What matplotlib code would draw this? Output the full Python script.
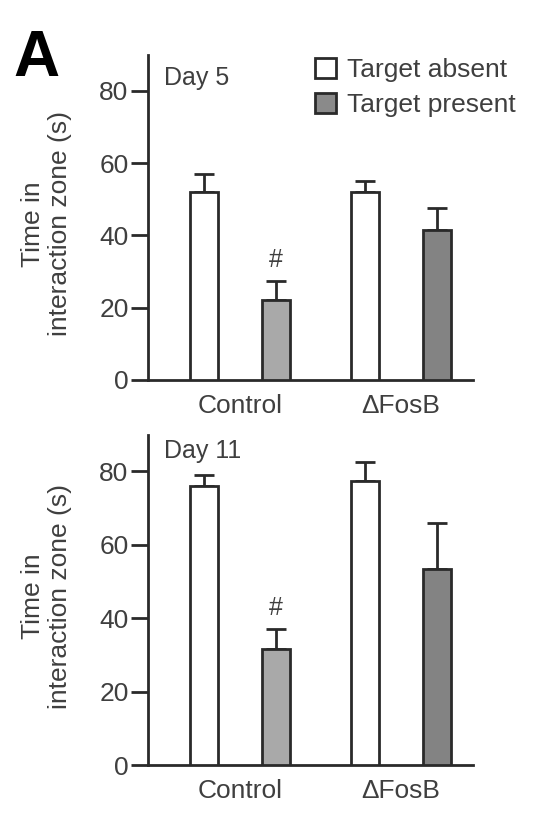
import matplotlib
matplotlib.use("Agg")
import matplotlib.pyplot as plt
from matplotlib.patches import Patch
import numpy as np

plt.rcParams['font.family'] = ['Liberation Sans', 'DejaVu Sans']

groups = ["Control", "\u0394FosB"]
series = ["Target absent", "Target present"]
days = ["Day 5", "Day 11"]
day5_absent = [52, 52]
day5_present = [22, 41.5]
day5_absent_err = [5, 3]
day5_present_err = [5.5, 6]
day11_absent = [76, 77.5]
day11_present = [31.5, 53.5]
day11_absent_err = [3, 5]
day11_present_err = [5.5, 12.5]
yticks = [0, 20, 40, 60, 80]

fig = plt.figure(figsize=(5.35, 8.36), dpi=100)
txt = '#3f3f3f'
edge = '#2a2a2a'
present_colors = ['#a9a9a9', '#838383']
FS = 19

axes_rects = [[0.2766, 0.5455, 0.607, 0.389], [0.2766, 0.0849, 0.607, 0.395]]
label_y = [0.48, 0.51]
day_y = [0.93, 0.95]
data = [(day5_absent, day5_present, day5_absent_err, day5_present_err),
        (day11_absent, day11_present, day11_absent_err, day11_present_err)]

x = np.arange(len(groups))
off = 0.224
w = 0.172
for k, rect in enumerate(axes_rects):
    ax = fig.add_axes(rect)
    ab, pr, abe, pre = data[k]
    ax.bar(x - off, ab, w, color='white', edgecolor=edge, linewidth=2, zorder=3)
    ax.bar(x + off, pr, w, color=present_colors, edgecolor=edge, linewidth=2, zorder=3)
    ax.errorbar(x - off, ab, yerr=[np.zeros(2), abe], fmt='none', ecolor=edge,
                elinewidth=2, capsize=7, capthick=2, zorder=2)
    ax.errorbar(x + off, pr, yerr=[np.zeros(2), pre], fmt='none', ecolor=edge,
                elinewidth=2, capsize=7, capthick=2, zorder=2)
    ax.text(x[0] + off, pr[0] + pre[0] + 2.5, '#', ha='center', va='bottom',
            fontsize=18, color=txt)
    ax.set_xlim(-0.571, 1.447)
    ax.set_ylim(0, 90)
    ax.set_yticks(yticks)
    ax.set_xticks(x)
    ax.set_xticklabels(groups)
    for s in ['top', 'right']:
        ax.spines[s].set_visible(False)
    for s in ['left', 'bottom']:
        ax.spines[s].set_linewidth(2)
        ax.spines[s].set_color(edge)
    ax.tick_params(axis='y', length=12, width=2, color=edge, labelsize=FS,
                   labelcolor=txt, pad=2)
    ax.tick_params(axis='x', length=0, labelsize=FS, labelcolor=txt, pad=10)
    ax.set_ylabel("Time in\ninteraction zone (s)", fontsize=FS, color=txt,
                  linespacing=1.15)
    ax.yaxis.set_label_coords(-0.235, label_y[k])
    ax.text(0.05, day_y[k], days[k], transform=ax.transAxes, ha='left', va='center',
            fontsize=18, color=txt)
    if k == 0:
        handles = [Patch(facecolor='white', edgecolor=edge, linewidth=2),
                   Patch(facecolor='#8a8a8a', edgecolor=edge, linewidth=2)]
        ax.legend(handles, series, loc='upper left', bbox_to_anchor=(0.515, 0.99),
                  frameon=False, fontsize=FS, handlelength=0.8, handleheight=0.8,
                  handletextpad=0.4, labelspacing=0.4, labelcolor=txt,
                  borderaxespad=0, borderpad=0)

fig.text(0.025, 0.965, "A", fontsize=46, fontweight='bold', ha='left', va='top',
         color='black')

fig.savefig("out.png", dpi=100)
